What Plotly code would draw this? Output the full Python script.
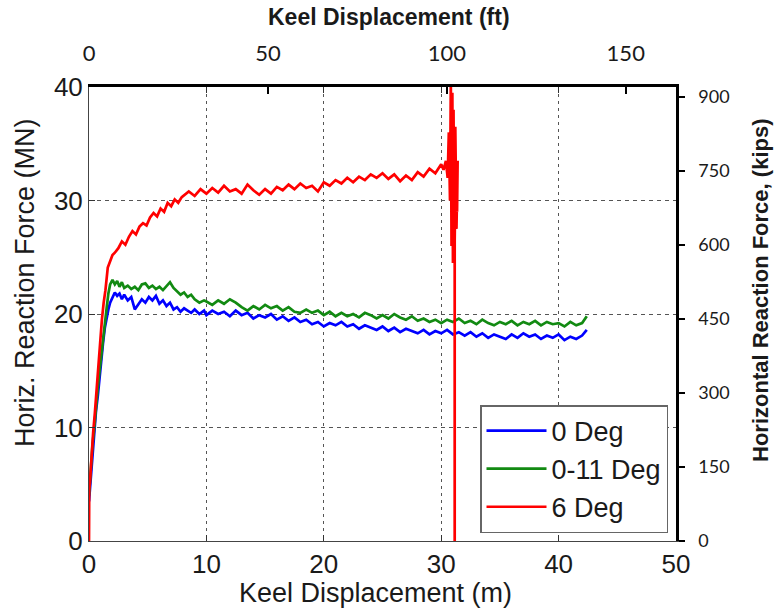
import plotly.graph_objects as go

# ---------------- data ----------------
M_TO_FT = 3.28084
X_RANGE_M = [0, 50]
Y_RANGE_MN = [0, 40]
KIPS_TOP = 920

x_ticks_m = [0, 10, 20, 30, 40, 50]
y_ticks_mn = [0, 10, 20, 30, 40]
ft_ticks = [0, 50, 100, 150]
kips_ticks = [0, 150, 300, 450, 600, 750, 900]

series_names = ["0 Deg", "0-11 Deg", "6 Deg"]
series_colors = ["#0000ff", "#128a12", "#ff0000"]

x_blue = [0, 0.15, 0.3, 0.45, 0.6, 0.75, 0.9, 1.05, 1.2, 1.35, 1.5, 1.65, 1.8, 2.0, 2.2,
          2.4, 2.6, 2.8, 3.0, 3.3, 3.6, 3.9, 4.2, 4.5, 4.8, 5.1, 5.4, 5.7, 6.0, 6.3, 6.6,
          6.9, 7.2, 7.5, 7.8, 8.1, 8.4, 8.7, 9.0, 9.4, 9.8,
          10.0, 10.5, 11.0, 11.5, 12.0, 12.5, 13.0, 13.5, 14.0, 14.5, 15.0, 15.5, 16.0,
          16.5, 17.0, 17.5, 18.0, 18.5, 19.0, 19.5, 20.0, 20.5, 21.0, 21.5, 22.0, 22.5,
          23.0, 23.5, 24.0, 24.5, 25.0, 25.5, 26.0, 26.5, 27.0, 27.5, 28.0, 28.5, 29.0,
          29.5, 30.0, 30.5, 31.0, 31.5, 32.0, 32.5, 33.0, 33.5, 34.0, 34.5, 35.0, 35.5,
          36.0, 36.5, 37.0, 37.5, 38.0, 38.5, 39.0, 39.5, 40.0, 40.5, 41.0, 41.5, 42.0, 42.4]
y_blue = [3.5, 5.5, 8.0, 9.5, 11.5, 12.8, 14.5, 15.8, 17.5, 18.8, 19.8, 20.4, 21.0, 21.5, 21.9,
          21.6, 21.8, 21.3, 21.7, 21.2, 21.5, 20.4, 20.8, 21.3, 21.0, 21.5, 21.2, 21.6, 20.9, 21.2, 20.7,
          21.0, 20.4, 20.6, 20.2, 20.5, 20.3, 20.1, 20.4, 20.0, 20.3,
          19.9, 20.3, 20.0, 20.2, 19.8, 20.3, 19.9, 20.1, 19.6, 19.9, 19.7, 20.0, 19.5,
          19.8, 19.4, 19.7, 19.3, 19.5, 19.1, 19.3, 18.9, 19.2, 19.0, 19.3, 18.9, 19.1,
          18.7, 19.0, 18.8, 18.6, 18.9, 18.5, 18.8, 18.4, 18.7, 18.5, 18.3, 18.6, 18.2,
          18.5, 18.3, 18.6, 18.2, 18.4, 18.1, 18.4, 18.0, 18.3, 17.9, 18.2, 18.0, 17.8,
          18.2, 17.9, 18.3, 18.0, 18.2, 17.8, 18.1, 17.9, 18.2, 17.7, 18.0, 17.8, 18.1, 18.6]

x_green = [0, 0.15, 0.3, 0.45, 0.6, 0.75, 0.9, 1.05, 1.2, 1.35, 1.5, 1.65, 1.8, 2.0, 2.2,
           2.4, 2.6, 2.8, 3.0, 3.3, 3.6, 3.9, 4.2, 4.5, 4.8, 5.1, 5.4, 5.7, 6.0, 6.3, 6.6,
           6.9, 7.2, 7.5, 7.8, 8.1, 8.4, 8.7, 9.0, 9.4, 9.8,
           10.0, 10.5, 11.0, 11.5, 12.0, 12.5, 13.0, 13.5, 14.0, 14.5, 15.0, 15.5, 16.0,
           16.5, 17.0, 17.5, 18.0, 18.5, 19.0, 19.5, 20.0, 20.5, 21.0, 21.5, 22.0, 22.5,
           23.0, 23.5, 24.0, 24.5, 25.0, 25.5, 26.0, 26.5, 27.0, 27.5, 28.0, 28.5, 29.0,
           29.5, 30.0, 30.5, 31.0, 31.5, 32.0, 32.5, 33.0, 33.5, 34.0, 34.5, 35.0, 35.5,
           36.0, 36.5, 37.0, 37.5, 38.0, 38.5, 39.0, 39.5, 40.0, 40.5, 41.0, 41.5, 42.0, 42.4]
y_green = [4.0, 6.5, 8.5, 10.0, 12.0, 13.5, 15.0, 16.5, 18.0, 19.5, 20.5, 21.8, 22.6, 23.0, 22.6,
           22.9, 22.4, 22.8, 22.3, 22.5, 22.2, 22.4, 22.1, 22.6, 22.7, 22.3, 22.5, 22.2, 22.4, 22.1, 22.5,
           22.8, 22.3, 22.0, 21.7, 21.9, 21.5, 21.7, 21.3, 21.0, 21.2,
           21.1, 20.8, 21.2, 20.9, 21.3, 21.0, 20.6, 20.3, 20.7, 20.4, 20.8, 20.5, 20.7,
           20.3, 20.6, 20.2, 20.1, 20.4, 20.1, 20.3, 19.9, 20.2, 19.8, 20.1, 19.8, 20.0,
           19.7, 20.1, 19.9, 19.6, 19.9, 19.6, 20.0, 19.7, 19.5, 19.8, 19.4, 19.6, 19.3,
           19.5, 19.2, 19.5, 19.3, 19.6, 19.2, 19.4, 19.1, 19.5, 19.2, 19.0, 19.3, 19.1,
           19.4, 19.0, 19.3, 19.1, 19.4, 19.0, 19.3, 19.1, 19.2, 18.9, 19.3, 19.0, 19.2, 19.8]

x_red = [0, 0.02, 0.1, 0.2, 0.35, 0.5, 0.65, 0.8, 0.95, 1.1, 1.25, 1.4, 1.6, 1.8, 2.0, 2.2,
         2.5, 2.8, 3.1, 3.4, 3.7, 4.0, 4.3, 4.6, 4.9, 5.2, 5.5, 5.8, 6.1, 6.4, 6.7, 7.0, 7.3,
         7.6, 7.9,
         8.5, 9.0, 9.5, 10.0, 10.5, 11.0, 11.5, 12.0, 12.5, 13.0, 13.5, 14.0, 14.5, 15.0,
         15.5, 16.0, 16.5, 17.0, 17.5, 18.0, 18.5, 19.0, 19.5, 20.0, 20.5, 21.0, 21.5, 22.0,
         22.5, 23.0, 23.5, 24.0, 24.5, 25.0, 25.5, 26.0, 26.5, 27.0, 27.5, 28.0, 28.5, 29.0,
         29.5, 30.0, 30.2, 30.4, 30.55, 30.65, 30.75, 30.82, 30.88, 30.95, 31.0, 31.05, 31.1,
         31.2, 31.3, 31.4, 31.35, 31.2, 31.15, 31.15]
y_red = [0, 4.5, 5.5, 7.4, 9.5, 11.3, 13.5, 15.7, 17.5, 19.5, 21.0, 22.1, 24.1, 24.6, 25.2, 25.4,
         25.8, 26.4, 26.1, 26.8, 27.3, 27.0, 27.7, 28.0, 27.8, 28.5, 28.9, 28.6, 29.3, 29.0, 29.8, 29.5, 30.1,
         29.8, 30.3,
         30.8, 30.4, 31.0, 30.6, 31.1, 30.7, 31.3, 30.8, 31.0, 30.6, 31.4, 30.9, 30.5, 31.0,
         30.6, 31.2, 30.9, 31.4, 31.0, 31.5, 31.1, 31.3, 30.8, 31.6, 31.3, 31.8, 31.5, 32.0,
         31.6, 32.1, 31.8, 32.3, 32.0, 32.4, 31.9, 32.3, 31.7, 32.2, 31.8, 32.5, 32.1, 32.8,
         32.4, 33.2, 32.7, 33.5, 32.0, 36.0, 30.0, 40.5, 26.0, 39.5, 24.5, 38.0, 28.0,
         36.5, 27.5, 33.5, 29.0, 31.0, 26.5, 0.0]

xs = [x_blue, x_green, x_red]
ys = [y_blue, y_green, y_red]

# ---------------- figure ----------------
W, H = 775, 611
ML, MR, MT, MB = 89, 99, 87, 70
PW, PH = W - ML - MR, H - MT - MB

fig = go.Figure()
for name, color, x, y in zip(series_names, series_colors, xs, ys):
    fig.add_trace(go.Scatter(x=x, y=y, mode="lines", name=name,
                             line=dict(color=color, width=2.7)))

def px_x(p):
    return (p - ML) / PW

def px_y(p):
    return (H - MB - p) / PH

arial = "Arial, Liberation Sans, sans-serif"
cal = "Lato, Carlito, Liberation Sans, sans-serif"
txt = "#1a1a1a"

fig.update_layout(
    width=W, height=H,
    margin=dict(l=ML, r=MR, t=MT, b=MB, pad=0),
    paper_bgcolor="white", plot_bgcolor="white",
    showlegend=True,
    legend=dict(
        x=px_x(668), y=px_y(533), xanchor="right", yanchor="bottom",
        bgcolor="white", bordercolor="#666", borderwidth=1.5,
        font=dict(family=arial, size=27, color=txt),
        tracegroupgap=0, itemwidth=60,
    ),
    xaxis=dict(
        range=X_RANGE_M, tickvals=x_ticks_m, ticks="inside", ticklen=6,
        tickcolor="#333", showline=True, linecolor="#444", linewidth=1,
        mirror="ticks", showgrid=True, gridcolor="#555", griddash="3px,4px",
        gridwidth=1.3, zeroline=False,
        tickfont=dict(family=arial, size=26, color=txt),
    ),
    yaxis=dict(
        range=Y_RANGE_MN, tickvals=y_ticks_mn, ticks="inside", ticklen=6,
        tickcolor="#333", showline=True, linecolor="#444", linewidth=1,
        showgrid=True, gridcolor="#555", griddash="4px,4px", gridwidth=1.3,
        zeroline=False, tickfont=dict(family=arial, size=26, color=txt),
    ),
    xaxis2=dict(
        overlaying="x", side="top", anchor="y",
        range=[X_RANGE_M[0] * M_TO_FT, X_RANGE_M[1] * M_TO_FT],
        tickvals=ft_ticks, ticks="inside", ticklen=7, tickwidth=1.5,
        tickcolor="black", showline=True, linecolor="black", linewidth=2.5,
        showgrid=False, zeroline=False, ticklabelstandoff=14,
        tickfont=dict(family=cal, size=22, color=txt),
    ),
    yaxis2=dict(
        overlaying="y", side="right", anchor="x",
        range=[0, KIPS_TOP], tickvals=kips_ticks, ticks="outside", ticklen=6,
        tickwidth=1.5, tickcolor="black", showline=True, linecolor="black",
        linewidth=2.5, showgrid=False, zeroline=False, ticklabelstandoff=10,
        tickfont=dict(family=cal, size=18, color=txt),
    ),
    annotations=[
        dict(text="Keel Displacement (ft)", xref="paper", yref="paper",
             x=px_x(389), y=px_y(17), showarrow=False, xanchor="center", yanchor="middle",
             font=dict(family=arial, size=23, color=txt, weight="bold")),
        dict(text="Keel Displacement (m)", xref="paper", yref="paper",
             x=px_x(375), y=px_y(593), showarrow=False, xanchor="center", yanchor="middle",
             font=dict(family=arial, size=27, color=txt)),
        dict(text="Horiz. Reaction Force (MN)", xref="paper", yref="paper",
             x=px_x(25), y=px_y(283), showarrow=False, textangle=-90,
             xanchor="center", yanchor="middle",
             font=dict(family=arial, size=27, color=txt)),
        dict(text="Horizontal Reaction Force, (kips)", xref="paper", yref="paper",
             x=px_x(760), y=px_y(290), showarrow=False, textangle=-90,
             xanchor="center", yanchor="middle",
             font=dict(family=arial, size=22, color=txt, weight="bold")),
    ],
)

# invisible helper so the secondary axes are attached to the figure
fig.add_trace(go.Scatter(x=[None], y=[None], xaxis="x2", yaxis="y2",
                         showlegend=False, hoverinfo="skip"))

fig.write_html("out.html")
